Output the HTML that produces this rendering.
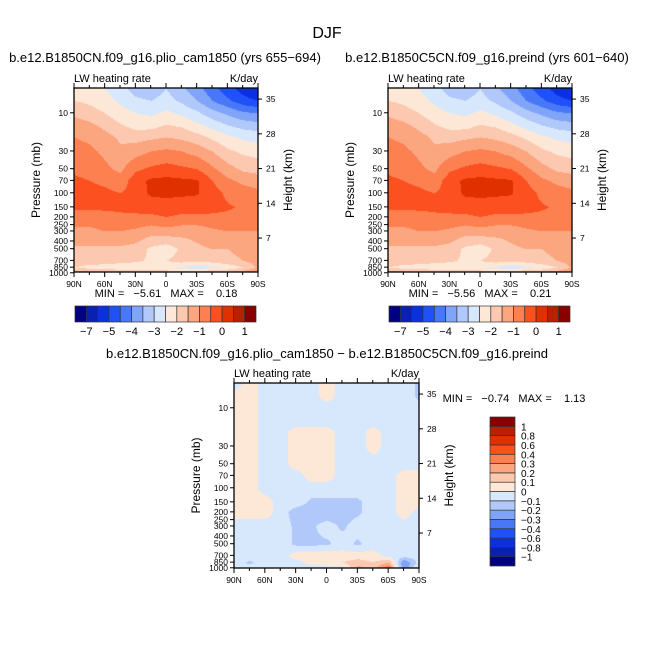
<!DOCTYPE html>
<html><head><meta charset="utf-8"><style>
body{margin:0;background:#fff;}
#wrap{position:relative;width:654px;height:654px;overflow:hidden;font-family:"Liberation Sans",sans-serif;}
canvas{position:absolute;left:0;top:0;}
svg{position:absolute;left:0;top:0;}
text{font-family:"Liberation Sans",sans-serif;fill:#000;white-space:pre;}
</style></head><body>
<div id="wrap">
<canvas id="cv" width="654" height="654"></canvas>
<svg id="sv" width="654" height="654"></svg>
</div>
<script>
const lats=[90,75,60,45,30,15,0,-15,-30,-45,-60,-75,-90];
const levels=[5,7,10,15,20,30,50,70,100,150,200,300,500,700,850,1000];
const field1=[
[-2.2,-2.3,-2.5,-2.8,-3.2,-3.3,-3.0,-3.4,-3.8,-4.3,-4.8,-5.2,-5.6],
[-2.0,-2.1,-2.3,-2.6,-2.9,-3.0,-2.8,-3.1,-3.5,-4.0,-4.4,-4.8,-5.0],
[-1.6,-1.8,-2.0,-2.3,-2.5,-2.6,-2.4,-2.6,-2.9,-3.3,-3.6,-3.9,-4.0],
[-1.2,-1.3,-1.6,-1.9,-2.1,-2.1,-1.9,-2.0,-2.3,-2.6,-2.9,-3.1,-3.2],
[-1.0,-1.1,-1.3,-1.6,-1.7,-1.6,-1.5,-1.6,-1.8,-2.1,-2.4,-2.6,-2.7],
[-0.8,-0.9,-1.1,-1.4,-1.2,-1.0,-0.9,-1.0,-1.2,-1.5,-1.9,-2.1,-2.2],
[-0.6,-0.7,-0.9,-1.1,-0.6,-0.4,-0.3,-0.4,-0.5,-0.9,-1.3,-1.6,-1.7],
[-0.4,-0.5,-0.6,-0.8,-0.2,0.1,0.15,0.1,0.05,-0.5,-0.9,-1.1,-1.2],
[-0.3,-0.35,-0.4,-0.5,-0.3,0.1,0.15,0.1,0.05,-0.3,-0.6,-0.8,-0.9],
[-0.4,-0.4,-0.4,-0.4,-0.35,-0.3,-0.3,-0.3,-0.3,-0.35,-0.45,-0.55,-0.6],
[-0.8,-0.8,-0.7,-0.6,-0.6,-0.6,-0.5,-0.6,-0.6,-0.6,-0.6,-0.7,-0.7],
[-1.1,-1.1,-1.0,-1.0,-1.1,-1.3,-1.2,-1.3,-1.3,-1.1,-1.0,-1.0,-1.0],
[-1.6,-1.6,-1.6,-1.6,-1.7,-2.1,-2.3,-1.9,-1.6,-1.5,-1.5,-1.4,-1.4],
[-1.7,-1.7,-1.7,-1.8,-1.9,-2.1,-2.0,-1.8,-1.9,-1.8,-1.6,-1.5,-1.3],
[-2.0,-2.2,-2.3,-2.4,-2.4,-2.5,-2.4,-2.6,-2.8,-2.6,-2.4,-2.0,-1.4],
[-1.0,-1.2,-1.2,-1.3,-1.5,-1.5,-1.6,-1.5,-1.5,-1.3,-1.2,-1.1,-1.0]];
const field2=[
[-2.2,-2.3,-2.5,-2.8,-3.2,-3.3,-3.0,-3.4,-3.8,-4.3,-4.8,-5.2,-5.56],
[-2.0,-2.1,-2.3,-2.6,-2.9,-3.0,-2.8,-3.1,-3.5,-4.0,-4.4,-4.8,-5.0],
[-1.6,-1.8,-2.0,-2.3,-2.5,-2.6,-2.4,-2.6,-2.9,-3.3,-3.6,-3.9,-4.0],
[-1.2,-1.3,-1.6,-1.9,-2.1,-2.1,-1.9,-2.0,-2.3,-2.6,-2.9,-3.1,-3.2],
[-1.0,-1.1,-1.3,-1.6,-1.7,-1.6,-1.5,-1.6,-1.8,-2.1,-2.4,-2.6,-2.7],
[-0.8,-0.9,-1.1,-1.4,-1.2,-1.0,-0.9,-1.0,-1.2,-1.5,-1.9,-2.1,-2.2],
[-0.6,-0.7,-0.9,-1.1,-0.6,-0.4,-0.3,-0.4,-0.5,-0.9,-1.3,-1.6,-1.7],
[-0.4,-0.5,-0.6,-0.8,-0.2,0.1,0.15,0.1,0.05,-0.5,-0.9,-1.1,-1.2],
[-0.3,-0.35,-0.4,-0.5,-0.3,0.1,0.15,0.1,0.05,-0.3,-0.6,-0.8,-0.9],
[-0.4,-0.4,-0.4,-0.4,-0.35,-0.3,-0.3,-0.3,-0.3,-0.35,-0.45,-0.55,-0.6],
[-0.8,-0.8,-0.7,-0.6,-0.6,-0.6,-0.5,-0.6,-0.6,-0.6,-0.6,-0.7,-0.7],
[-1.1,-1.1,-1.0,-1.0,-1.1,-1.3,-1.2,-1.3,-1.3,-1.1,-1.0,-1.0,-1.0],
[-1.6,-1.6,-1.6,-1.6,-1.7,-2.1,-2.3,-1.9,-1.6,-1.5,-1.5,-1.4,-1.4],
[-1.7,-1.7,-1.7,-1.8,-1.9,-2.1,-2.0,-1.8,-1.9,-1.8,-1.6,-1.5,-1.3],
[-2.0,-2.2,-2.3,-2.4,-2.4,-2.5,-2.4,-2.6,-2.8,-2.6,-2.4,-2.0,-1.4],
[-1.0,-1.2,-1.2,-1.3,-1.5,-1.5,-1.6,-1.5,-1.5,-1.3,-1.2,-1.1,-1.0]];
const fieldDiff=[
[-0.05,0.05,-0.05,-0.05,-0.05,-0.05,0.05,-0.05,-0.05,-0.05,-0.05,-0.05,-0.12],
[0.05,0.05,-0.05,-0.05,-0.05,-0.05,0.05,-0.05,-0.05,-0.05,-0.05,-0.05,-0.12],
[0.05,0.05,-0.05,-0.05,-0.05,-0.05,-0.05,-0.05,-0.05,-0.05,-0.05,-0.05,-0.08],
[0.05,0.05,-0.05,-0.05,-0.05,-0.05,-0.05,-0.05,-0.05,-0.05,-0.05,-0.05,-0.05],
[0.05,0.05,-0.05,-0.05,0.05,0.05,0.05,-0.05,-0.05,0.05,-0.05,-0.05,-0.05],
[0.05,0.05,-0.05,-0.05,0.05,0.05,0.05,-0.05,-0.05,0.05,-0.05,-0.05,-0.05],
[0.05,0.05,-0.05,-0.05,0.05,0.05,0.05,-0.05,-0.05,-0.05,-0.05,-0.05,-0.05],
[0.05,0.05,-0.05,-0.05,-0.05,0.05,0.05,-0.05,-0.05,-0.05,-0.05,0.05,0.05],
[0.05,0.05,-0.05,-0.05,-0.05,-0.05,-0.05,-0.05,-0.05,-0.05,-0.05,0.05,0.05],
[0.05,0.05,0.05,-0.05,-0.05,-0.12,-0.12,-0.12,-0.12,-0.05,-0.05,0.05,0.05],
[0.05,0.05,0.05,-0.05,-0.15,-0.15,-0.18,-0.15,-0.12,-0.05,-0.05,0.05,-0.05],
[-0.05,-0.05,-0.05,-0.05,-0.12,-0.12,-0.05,-0.12,-0.05,-0.05,-0.05,-0.05,-0.05],
[-0.05,-0.05,-0.05,-0.05,-0.12,-0.12,-0.12,-0.05,-0.12,-0.05,-0.05,-0.05,-0.05],
[-0.05,-0.05,-0.05,-0.05,0.05,0.05,0.08,0.05,0.05,0.05,-0.05,-0.05,-0.05],
[-0.05,-0.12,-0.05,-0.05,-0.05,0.05,0.05,0.1,0.15,0.1,0.2,-0.3,-0.05],
[-0.05,-0.05,-0.05,-0.05,-0.05,-0.05,-0.05,-0.05,0.25,0.15,0.4,-0.3,0.05]];
const bounds1=[-7,-6,-5,-4.5,-4,-3.5,-3,-2.5,-2,-1.5,-1,-0.5,0,0.5,1];
const barLabels1=["−7","−5","−4","−3","−2","−1","0","1"];
const boundsDiff=[-1,-0.8,-0.6,-0.4,-0.3,-0.2,-0.1,0,0.1,0.2,0.3,0.4,0.6,0.8,1];
const barLabelsDiff=["−1","−0.8","−0.6","−0.4","−0.3","−0.2","−0.1","0","0.1","0.2","0.3","0.4","0.6","0.8","1"];
const xTickLabels=["90N","60N","30N","0","30S","60S","90S"];
const xTickLats=[90,60,30,0,-30,-60,-90];
const pTicks=[10,30,50,70,100,150,200,250,300,400,500,700,850,1000];
const hTicks=[7,14,21,28,35];
const colors=["#000080","#0a20b0","#0a30e0","#2050f8","#4878f8","#80a4f8","#b0c8fa","#d8e8fc","#fde8d8","#fcc8b0","#fca680","#fc8050","#fc5020","#e03000","#b82000","#880000"];

const NS="http://www.w3.org/2000/svg";
const sv=document.getElementById('sv');
const ctx=document.getElementById('cv').getContext('2d');
function mk(tag,attrs,txt){const e=document.createElementNS(NS,tag);for(const k in attrs)e.setAttribute(k,attrs[k]);if(txt!==undefined)e.textContent=txt;sv.appendChild(e);return e;}
function hex(c){return [parseInt(c.slice(1,3),16),parseInt(c.slice(3,5),16),parseInt(c.slice(5,7),16)];}
const rgb=colors.map(hex);
function cls(v,b){let i=0;while(i<b.length&&v>=b[i])i++;return i;}
function yOfP(P,p){return P.y+80*(Math.log10(p)-Math.log10(4.9));}
function xOfLat(P,lat){return P.x+(90-lat)/180*P.w;}
function sample(F,lat,p){
  const lp=Math.log10(p);
  let k=0;while(k<levels.length-2&&Math.log10(levels[k+1])<lp)k++;
  let t=(lp-Math.log10(levels[k]))/(Math.log10(levels[k+1])-Math.log10(levels[k]));t=Math.max(0,Math.min(1,t));
  const fi=(90-lat)/15;let i=Math.min(11,Math.floor(fi));const s=fi-i;
  const a=F[k][i]*(1-s)+F[k][i+1]*s,b=F[k+1][i]*(1-s)+F[k+1][i+1]*s;
  return a*(1-t)+b*t;
}
function panel(P,F,B,name,title,titleX,minmax,mmx,mmy){
  const img=ctx.createImageData(P.w,P.h);
  for(let py=0;py<P.h;py++){const p=Math.pow(10,Math.log10(4.9)+py/80);
    for(let px=0;px<P.w;px++){const lat=90-px/P.w*180;const c=rgb[cls(sample(F,lat,p),B)];const o=(py*P.w+px)*4;img.data[o]=c[0];img.data[o+1]=c[1];img.data[o+2]=c[2];img.data[o+3]=255;}}
  ctx.putImageData(img,P.x,P.y);
  mk('rect',{x:P.x,y:P.y,width:P.w,height:P.h,fill:'none',stroke:'#000','stroke-width':1.3,});
  for(let lat=90;lat>=-90;lat-=15){const x=xOfLat(P,lat);const L=(lat%30===0)?5:3;
    mk('line',{x1:x,x2:x,y1:P.y+P.h,y2:P.y+P.h+L,stroke:'#000'});mk('line',{x1:x,x2:x,y1:P.y,y2:P.y-L,stroke:'#000'});}
  xTickLats.forEach((lat,i)=>mk('text',{x:xOfLat(P,lat),y:P.y+P.h+15,'font-size':8.5,'text-anchor':'middle',},xTickLabels[i]));
  pTicks.forEach(p=>{const y=yOfP(P,p);mk('line',{x1:P.x,x2:P.x-4,y1:y,y2:y,stroke:'#000'});mk('text',{x:P.x-6,y:y+3,'font-size':8.5,'text-anchor':'end',},p);});
  hTicks.forEach(h=>{const p=1000*Math.exp(-h/7);const y=yOfP(P,p);mk('line',{x1:P.x+P.w,x2:P.x+P.w+4,y1:y,y2:y,stroke:'#000'});mk('text',{x:P.x+P.w+8,y:y+3,'font-size':8.5,},h);});
  mk('text',{x:P.x,y:P.y-6,'font-size':11,},'LW heating rate');
  mk('text',{x:P.x+P.w,y:P.y-6,'font-size':11,'text-anchor':'end',},'K/day');
  mk('text',{transform:`translate(${P.x-34},${P.y+P.h/2}) rotate(-90)`,'font-size':12,'text-anchor':'middle',},'Pressure (mb)');
  mk('text',{transform:`translate(${P.x+P.w+34},${P.y+P.h/2}) rotate(-90)`,'font-size':12,'text-anchor':'middle',},'Height (km)');
  if(title)mk('text',{x:titleX,y:P.y-26,'font-size':13,'text-anchor':'middle',},title);
  mk('text',{x:mmx,y:mmy,'font-size':11,'text-anchor':'middle',},minmax);
}
function hbar(x,y,w,h,name){
  const n=colors.length,bw=w/n;
  colors.forEach((c,i)=>mk('rect',{x:x+i*bw,y:y,width:bw,height:h,fill:c,stroke:'#333','stroke-width':0.7,}));
  barLabels1.forEach((l,j)=>mk('text',{x:x+(1+2*j)*bw,y:y+h+13,'font-size':11,'text-anchor':'middle',},l));
}
function vbar(x,y,w,h){
  const n=colors.length,bh=h/n;
  colors.forEach((c,i)=>mk('rect',{x:x,y:y+h-(i+1)*bh,width:w,height:bh,fill:c,stroke:'#333','stroke-width':0.7,}));
  barLabelsDiff.forEach((l,j)=>mk('text',{x:x+w+6,y:y+h-(j+1)*bh+4,'font-size':10,},l));
}
mk('text',{x:327,y:38,'font-size':16,'text-anchor':'middle',},'DJF');
const P1={x:74,y:88,w:184,h:184},P2={x:388,y:88,w:184,h:184},P3={x:234,y:383,w:185,h:185};
panel(P1,field1,bounds1,'panel-plio','b.e12.B1850CN.f09_g16.plio_cam1850 (yrs 655−694)',165,'MIN =   −5.61   MAX =    0.18',166,297);
panel(P2,field2,bounds1,'panel-preind','b.e12.B1850C5CN.f09_g16.preind (yrs 601−640)',487,'MIN =   −5.56   MAX =    0.21',480,297);
panel(P3,fieldDiff,boundsDiff,'panel-diff',null,0,'MIN =   −0.74   MAX =    1.13',514,402);
mk('text',{x:327,y:358,'font-size':13,'text-anchor':'middle',},'b.e12.B1850CN.f09_g16.plio_cam1850 − b.e12.B1850C5CN.f09_g16.preind');
hbar(75,306,181,16,'colorbar-plio');
hbar(389,306,181,16,'colorbar-preind');
vbar(490,417,25,149);
</script>
</body></html>
